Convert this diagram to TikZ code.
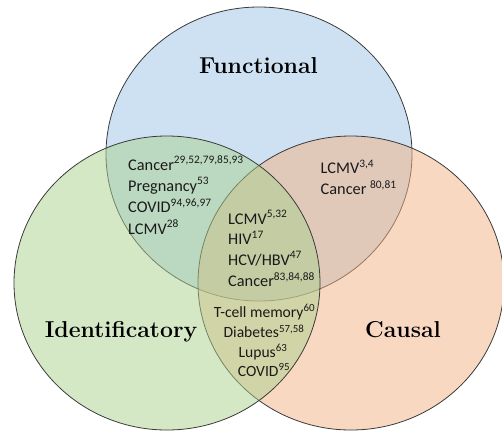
\documentclass[tikz,border=0pt]{standalone}
\usepackage{fontspec}
\newfontfamily\bodyfont{Carlito}
\newcommand{\rf}[1]{\textsuperscript{#1}}
\definecolor{fblue}{HTML}{9DC3E6}
\definecolor{fgreen}{HTML}{A9D18E}
\definecolor{fpink}{HTML}{F4B183}
\definecolor{edge}{HTML}{3A3A3A}
\definecolor{ink}{HTML}{1A1A1A}
\tikzset{
  venn/.style={draw=edge, line width=0.8pt, fill opacity=0.5},
  title/.style={font=\fontsize{23}{26}\selectfont\bfseries, text=black, inner sep=0pt},
  item/.style={font=\bodyfont\fontsize{16.3}{19}\selectfont, text=ink, inner sep=0pt, anchor=base west},
  citem/.style={font=\bodyfont\fontsize{15.6}{18}\selectfont, text=ink, inner sep=0pt, anchor=base}
}
\begin{document}
\begin{tikzpicture}[x=1pt,y=-1pt]
\useasboundingbox (0,0) rectangle (502,432);
% circles
\path[venn, fill=fblue]  (259,154) ellipse [x radius=153pt, y radius=147pt];
\path[venn, fill=fpink]  (351,283) ellipse [x radius=153pt, y radius=147pt];
\path[venn, fill=fgreen] (167,283) ellipse [x radius=153pt, y radius=147pt];
% titles
\node[title, anchor=base] (functional) at (258.5,73) {Functional};
\node[title, anchor=base] (identificatory) at (121,337) {Identificatory};
\node[title, anchor=base] (causal) at (403,337) {Causal};
% functional & identificatory
\node[item] (fi1) at (128,170) {Cancer\rf{29,52,79,85,93}};
\node[item] (fi2) at (128,191) {Pregnancy\rf{53}};
\node[item] (fi3) at (128,212.5) {COVID\rf{94,96,97}};
\node[item] (fi4) at (128,234) {LCMV\rf{28}};
% all three
\node[item] (c1) at (228,224) {LCMV\rf{5,32}};
\node[item] (c2) at (228,244.5) {HIV\rf{17}};
\node[item] (c3) at (228,265) {HCV/HBV\rf{47}};
\node[item] (c4) at (228,286.5) {Cancer\rf{83,84,88}};
% functional & causal
\node[item] (fc1) at (320.5,173.3) {LCMV\rf{3,4}};
\node[item] (fc2) at (320.5,194.3) {Cancer \rf{80,81}};
% identificatory & causal
\node[citem] (ic1) at (264.5,317) {T-cell memory\rf{60}};
\node[citem] (ic2) at (264,337.5) {Diabetes\rf{57,58}};
\node[citem] (ic3) at (263,357) {Lupus\rf{63}};
\node[citem] (ic4) at (264,376) {COVID\rf{95}};
\end{tikzpicture}
\end{document}
